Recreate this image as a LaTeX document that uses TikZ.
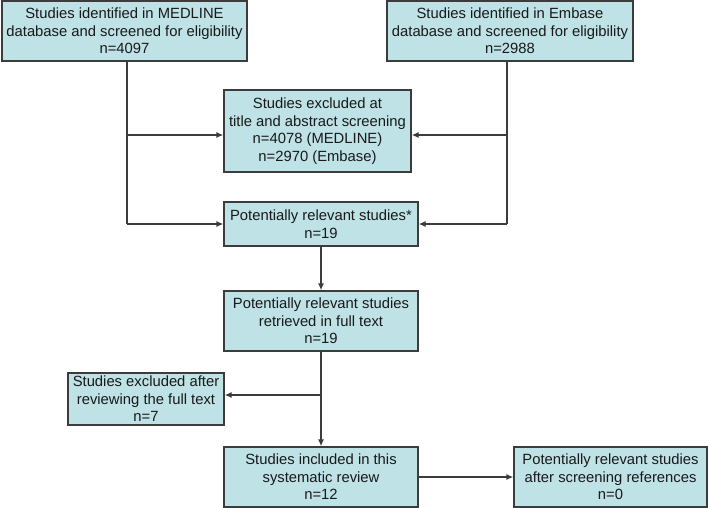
\documentclass[tikz,border=0pt]{standalone}
\usepackage{fontspec}
\setmainfont{Liberation Sans}
\usetikzlibrary{arrows.meta}
\definecolor{boxfill}{RGB}{190,226,230}
\definecolor{boxline}{RGB}{60,60,60}
\definecolor{conn}{RGB}{60,60,60}
\begin{document}
\begin{tikzpicture}[x=1pt,y=-1pt,
  box/.style={draw=boxline,line width=1.3pt,fill=boxfill,align=center,inner sep=0pt,
    font=\fontsize{14.8}{17.5}\selectfont,text=black!90},
  conn/.style={draw=conn,line width=1.3pt},
  arr/.style={conn,-{Latex[length=7pt,width=6pt]}}]
\useasboundingbox (0,0) rectangle (709,508);
\node[box,minimum width=245,minimum height=60] (med) at (124.5,31) {Studies identified in MEDLINE\\database and screened for eligibility\\n=4097};
\node[box,minimum width=246,minimum height=60] (emb) at (510,31) {Studies identified in Embase\\database and screened for eligibility\\n=2988};
\node[box,minimum width=187,minimum height=82] (exc) at (317.5,131) {Studies excluded at\\title and abstract screening\\n=4078 (MEDLINE)\\n=2970 (Embase)};
\node[box,minimum width=194,minimum height=44] (pot) at (321,224) {Potentially relevant studies*\\n=19};
\node[box,minimum width=194,minimum height=60] (ret) at (321,321) {Potentially relevant studies\\retrieved in full text\\n=19};
\node[box,minimum width=156,minimum height=52] (exf) at (146,399) {Studies excluded after\\reviewing the full text\\n=7};
\node[box,minimum width=194,minimum height=60] (inc) at (321,477) {Studies included in this\\systematic review\\n=12};
\node[box,minimum width=193,minimum height=60] (ref) at (610.5,477) {Potentially relevant studies\\after screening references\\n=0};
\coordinate (mc) at (127,224);
\coordinate (ec) at (507,224);
\coordinate (mb) at (127,135);
\coordinate (eb) at (507,135);
\coordinate (rb) at (321,395);
\draw[conn] (med.south -| mc) -- (mc);
\draw[conn] (emb.south -| ec) -- (ec);
\draw[arr] (mb) -- (mb -| exc.west);
\draw[arr] (eb) -- (eb -| exc.east);
\draw[arr] (mc) -- (pot.west);
\draw[arr] (ec) -- (pot.east);
\draw[arr] (pot.south) -- (ret.north);
\draw[arr] (ret.south) -- (inc.north);
\draw[arr] (rb) -- (rb -| exf.east);
\draw[arr] (inc.east) -- (ref.west);
\end{tikzpicture}
\end{document}
